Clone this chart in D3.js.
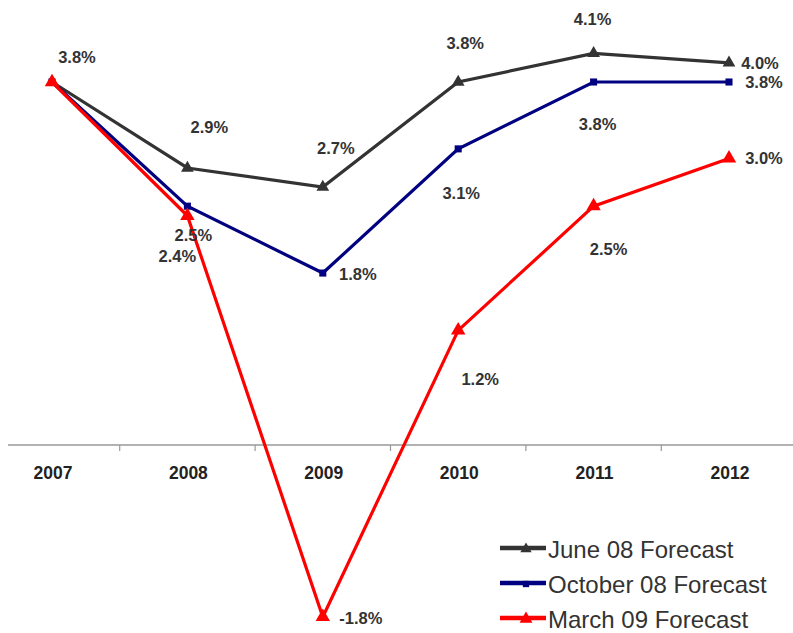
<!DOCTYPE html>
<html><head><meta charset="utf-8">
<script src="https://cdn.jsdelivr.net/npm/d3@7"></script>
<style>body{margin:0;background:#fff}svg{display:block}text{font-family:"Liberation Sans",Arial,sans-serif}</style>
</head><body><svg id="c" width="793" height="633"></svg>
<script>
const years = ["2007","2008","2009","2010","2011","2012"];
const june08 = [3.8, 2.9, 2.7, 3.8, 4.1, 4.0];
const oct08 = [3.8, 2.5, 1.8, 3.1, 3.8, 3.8];
const mar09 = [3.8, 2.4, -1.8, 1.2, 2.5, 3.0];
const seriesNames = ["June 08 Forecast","October 08 Forecast","March 09 Forecast"];

// label offsets (style)
const labelOff = [
  [[25,-25],[22,-41],[13,-39],[7,-39],[-1,-34],[31,0]],
  [null,[6,29],[35,1],[3,44],[4,42],[35,0]],
  [null,[-10,40],[38,1],[22,49],[15,43],[35,0]]
];
const colors = ["#333333","#000080","#ff0000"];
const shapes = [d3.symbolTriangle, d3.symbolSquare, d3.symbolTriangle];
const shapeSize = [70, 50, 90];

const svg = d3.select("#c");
const x = d3.scaleBand().domain(years).range([-15.7, 796.7]).padding(0);
const y = d3.scaleLinear().domain([0, 3.8]).range([445, 82]);
const cx = d => x(d) + x.bandwidth()/2;

// axis
const ax = svg.append("g").attr("transform","translate(0,445)");
ax.append("line").attr("x1",8).attr("x2",793).attr("stroke","#999").attr("stroke-width",1.5);
years.slice(1).forEach(yr => {
  ax.append("line").attr("x1",x(yr)).attr("x2",x(yr)).attr("y1",0).attr("y2",6).attr("stroke","#999").attr("stroke-width",1.2);
});
ax.selectAll("text.t").data(years).enter().append("text")
  .attr("x", d=>cx(d)+1).attr("y",28).attr("text-anchor","middle").attr("dominant-baseline","central")
  .attr("font-size","17.5px").attr("font-weight","bold").attr("fill","#222").text(d=>d);

const allSeries = [june08, oct08, mar09];
const line = d3.line().x((d,i)=>cx(years[i])).y(d=>y(d));

allSeries.forEach((s,k)=>{
  svg.append("path").datum(s).attr("d",line).attr("fill","none")
    .attr("stroke",colors[k]).attr("stroke-width",3.2).attr("stroke-linejoin","miter");
  svg.selectAll(null).data(s).enter().append("path")
    .attr("d", d3.symbol().type(shapes[k]).size(shapeSize[k]))
    .attr("transform",(d,i)=>`translate(${cx(years[i])},${y(d)})`)
    .attr("fill",colors[k]);
});
allSeries.forEach((s,k)=>{
  const lab = s.map((v,i)=>({v,i,o:labelOff[k][i]})).filter(d=>d.o);
  svg.selectAll(null).data(lab).enter().append("text")
    .attr("x",d=>cx(years[d.i])+d.o[0])
    .attr("y",d=>y(d.v)+d.o[1])
    .attr("text-anchor","middle").attr("dominant-baseline","central")
    .attr("font-size","16.5px").attr("font-weight","bold").attr("fill","#333")
    .text(d=>d.v.toFixed(1)+"%");
});

// legend
const lg = svg.append("g").attr("transform","translate(500,548)");
seriesNames.forEach((n,k)=>{
  const g = lg.append("g").attr("transform",`translate(0,${k*35})`);
  g.append("line").attr("x1",0).attr("x2",46).attr("stroke",colors[k]).attr("stroke-width",4.5);
  g.append("path").attr("d",d3.symbol().type(shapes[k]).size(shapeSize[k]*0.8)).attr("transform","translate(26,1)").attr("fill",colors[k]);
  g.append("text").attr("x",48).attr("y",1).attr("dominant-baseline","central")
    .attr("font-size","24px").attr("fill","#333").text(n);
});
</script></body></html>
